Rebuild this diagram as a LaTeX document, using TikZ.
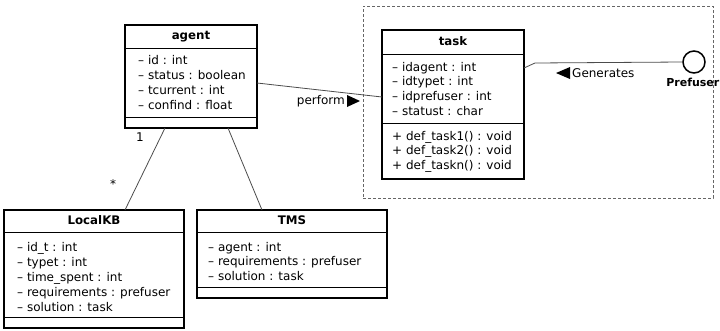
\documentclass[tikz,border=0pt]{standalone}
\usepackage{fontspec}
\setmainfont{DejaVu Sans}
\begin{document}
\begin{tikzpicture}[x=1pt,y=-1pt,
  classbox/.style={draw, line width=1.6pt, fill=white, inner sep=0pt, outer sep=0pt},
  sepline/.style={line width=0.8pt},
  ctitle/.style={font=\fontsize{11.8}{14}\selectfont\bfseries, inner sep=0pt, text height=8.5pt, text depth=2.3pt},
  attr/.style={font=\fontsize{12}{14}\selectfont, anchor=base west, inner sep=0pt},
  conn/.style={draw=black!70, line width=0.8pt},
  lbl/.style={font=\fontsize{12}{14}\selectfont, inner sep=0pt}]
\useasboundingbox (0,0) rectangle (720,330);

% dashed frame
\node[draw=black!60, densely dashed, line width=0.6pt, minimum width=350pt, minimum height=192pt, inner sep=0pt] (frame) at (538,102) {};

% agent
\node[classbox, minimum width=132pt, minimum height=103pt] (agent) at (191,76.5) {};
\draw[sepline] (agent.west |- 0,48) -- (agent.east |- 0,48);
\draw[sepline] (agent.west |- 0,117) -- (agent.east |- 0,117);
\node[ctitle] (agentT) at (191,36.5) {agent};
\foreach \t [count=\i] in {{– id : int},{– status : boolean},{– tcurrent : int},{– confind : float}}
  \node[attr] (agentA\i) at (138,{64+15*(\i-1)}) {\t};

% task
\node[classbox, minimum width=142pt, minimum height=149pt] (task) at (453,104.5) {};
\draw[sepline] (task.west |- 0,54) -- (task.east |- 0,54);
\draw[sepline] (task.west |- 0,123) -- (task.east |- 0,123);
\node[ctitle] (taskT) at (453,42) {task};
\foreach \t [count=\i] in {{– idagent : int},{– idtypet : int},{– idprefuser : int},{– statust : char}}
  \node[attr] (taskA\i) at (392,{71+14.7*(\i-1)}) {\t};
\foreach \t [count=\i] in {{+ def\_task1() : void},{+ def\_task2() : void},{+ def\_taskn() : void}}
  \node[attr] (taskM\i) at (392,{140+14.7*(\i-1)}) {\t};

% LocalKB
\node[classbox, minimum width=180pt, minimum height=118pt] (localkb) at (94,269) {};
\draw[sepline] (localkb.west |- 0,232) -- (localkb.east |- 0,232);
\draw[sepline] (localkb.west |- 0,317) -- (localkb.east |- 0,317);
\node[ctitle] (localkbT) at (94,221) {LocalKB};
\foreach \t [count=\i] in {{– id\_t : int},{– typet : int},{– time\_spent : int},{– requirements : prefuser},{– solution : task}}
  \node[attr] (localkbA\i) at (17,{251+15*(\i-1)}) {\t};

% TMS
\node[classbox, minimum width=190pt, minimum height=88pt] (tms) at (292,254) {};
\draw[sepline] (tms.west |- 0,232) -- (tms.east |- 0,232);
\draw[sepline] (tms.west |- 0,287) -- (tms.east |- 0,287);
\node[ctitle] (tmsT) at (292,221) {TMS};
\foreach \t [count=\i] in {{– agent : int},{– requirements : prefuser},{– solution : task}}
  \node[attr] (tmsA\i) at (208,{251+14.5*(\i-1)}) {\t};

% Prefuser interface
\node[draw, circle, line width=1.5pt, minimum size=22pt, inner sep=0pt] (pref) at (694,62) {};
\node[font=\fontsize{11}{13}\selectfont\bfseries, inner sep=0pt, anchor=east] (prefL) at (719.5,82) {Prefuser};

% connectors
\draw[conn] ([xshift=40pt]agent.south west) -- ([xshift=121pt]localkb.north west);
\draw[conn] ([xshift=103pt]agent.south west) -- ([xshift=65pt]tms.north west);
\draw[conn] ([yshift=-58pt]agent.north east) -- ([yshift=-67pt]task.north west);
\coordinate (bend) at (535,63);
\draw[conn] ([yshift=-38pt]task.north east) -- (bend) -- (pref.west);

% labels
\node[lbl] (m1) at (140,137) {1};
\node[lbl] (m2) at (113,184) {*};
\node[lbl, anchor=east] (perf) at (345,101) {perform};
\fill (347,95) -- (360,101) -- (347,107) -- cycle;
\fill (570,67) -- (556,73) -- (570,79) -- cycle;
\node[lbl, anchor=west] (gen) at (572,73) {Generates};
\end{tikzpicture}
\end{document}
